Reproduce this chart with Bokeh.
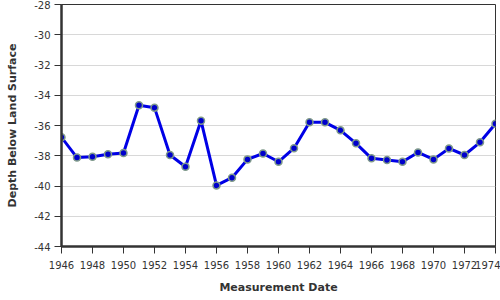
from bokeh.plotting import figure
from bokeh.embed import file_html
from bokeh.resources import INLINE
from bokeh.models import FixedTicker, CustomJSTickFormatter

years = [1946, 1947, 1948, 1949, 1950, 1951, 1952, 1953, 1954, 1955,
         1956, 1957, 1958, 1959, 1960, 1961, 1962, 1963, 1964, 1965,
         1966, 1967, 1968, 1969, 1970, 1971, 1972, 1973, 1974]
depth = [-36.78, -38.12, -38.07, -37.90, -37.82, -34.66, -34.82, -37.95, -38.73, -35.68,
         -39.96, -39.45, -38.24, -37.85, -38.40, -37.50, -35.79, -35.79, -36.32, -37.18,
         -38.17, -38.28, -38.40, -37.78, -38.24, -37.52, -37.95, -37.11, -35.88]
x_ticks = list(range(1946, 1976, 2))
y_ticks = list(range(-44, -26, 2))

p = figure(width=500, height=300, output_backend="svg", toolbar_location=None,
           x_range=(1946, 1974), y_range=(-44, -28),
           min_border_left=61, min_border_right=5, min_border_top=4, min_border_bottom=54)
p.background_fill_color = "white"
p.border_fill_color = "white"
p.outline_line_color = "#333333"
p.outline_line_width = 1

p.line(years, depth, line_color="#0000e6", line_width=3)
p.scatter(years, depth, size=7, fill_color="#0000cc", line_color="#7f9a8a", line_width=1.5)

p.xaxis.ticker = FixedTicker(ticks=x_ticks)
p.yaxis.ticker = FixedTicker(ticks=y_ticks)
p.xaxis.formatter = CustomJSTickFormatter(code="return String(tick);")
p.yaxis.formatter = CustomJSTickFormatter(code="return String(tick);")
p.xgrid.grid_line_color = None
p.ygrid.grid_line_color = "#d8d8d8"
p.ygrid.grid_line_width = 1

for ax in (p.xaxis[0], p.yaxis[0]):
    ax.axis_line_color = "#333333"
    ax.axis_line_width = 2.5
    ax.major_tick_line_color = "#333333"
    ax.major_tick_line_width = 1
    ax.major_tick_out = 7
    ax.major_tick_in = 0
    ax.minor_tick_line_color = None
    ax.major_label_text_font = "DejaVu Sans"
    ax.major_label_text_font_size = "10px"
    ax.major_label_text_color = "#333333"
    ax.axis_label_text_font = "DejaVu Sans"
    ax.axis_label_text_font_size = "11px"
    ax.axis_label_text_font_style = "bold"
    ax.axis_label_text_color = "#333333"

p.xaxis.axis_label = "Measurement Date"
p.yaxis.axis_label = "Depth Below Land Surface"
p.xaxis.major_label_standoff = 7
p.xaxis.axis_label_standoff = 9
p.yaxis.major_label_standoff = 4
p.yaxis.axis_label_standoff = 12

open("out.html", "w").write(file_html(p, INLINE))
